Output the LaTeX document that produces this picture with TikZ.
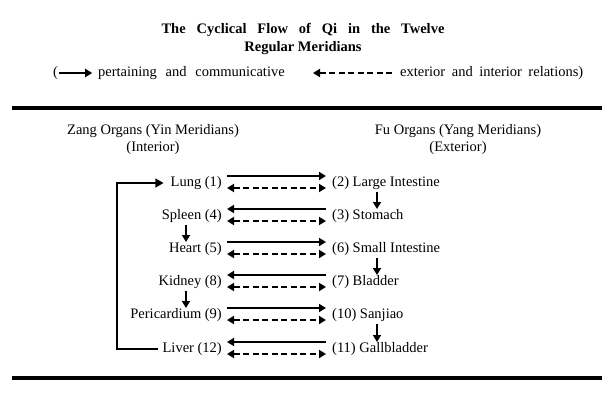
\documentclass[tikz,border=0pt]{standalone}
\usepackage{fontspec}
\setmainfont{Liberation Serif}
\usetikzlibrary{positioning,arrows.meta}

\begin{document}
\begin{tikzpicture}[x=1pt,y=-1pt,font={\fontsize{14.5}{17}\selectfont},
  organ/.style={inner sep=1pt},
  tip/.tip={Triangle[length=7pt,width=8pt]},
  flow/.style={line width=2.2pt,-tip},
  relation/.style={line width=2.2pt,dash pattern=on 6pt off 3.5pt,tip-tip},
  rule/.style={line width=3.2pt}]
\useasboundingbox (0,0) rectangle (615,415);

% title and key
\node[font={\fontsize{14.5}{18}\selectfont\bfseries},align=center] (title) at (303,39)
  {The\hspace{0.75em}Cyclical\hspace{0.75em}Flow\hspace{0.75em}of\hspace{0.75em}Qi\hspace{0.75em}in\hspace{0.75em}the\hspace{0.75em}Twelve\\Regular Meridians};
\node[anchor=west,inner sep=0] (kL) at (53,73) {(};
\node[anchor=west,inner sep=0] (k1) at (98,73) {pertaining\hspace{0.6em}and\hspace{0.6em}communicative};
\node[anchor=west,inner sep=0] (k2) at (400,73) {exterior\hspace{0.45em}and\hspace{0.45em}interior\hspace{0.45em}relations)};
\draw[flow] (kL.east) ++(1,0) -- ++(33,0) coordinate (kA);
\draw[line width=2.2pt,dash pattern=on 6pt off 3.5pt,tip-] (313,73) -- (392,73) coordinate (kB);

\draw[rule] (12,108) -- (602,108) coordinate (top);
\draw[rule] (12,378) -- (602,378) coordinate (bot);

\node[align=center] (zang) at (153,140) {Zang Organs (Yin Meridians)\\(Interior)};
\node[align=center] (fu) at (458,140) {Fu Organs (Yang Meridians)\\(Exterior)};

% zang organs
\node[organ,anchor=east] (L1) at (223,183) {Lung (1)};
\node[organ,anchor=east] (L4) at (223,216) {Spleen (4)};
\node[organ,anchor=east] (L5) at (223,249) {Heart (5)};
\node[organ,anchor=east] (L8) at (223,282) {Kidney (8)};
\node[organ,anchor=east] (L9) at (223,315) {Pericardium (9)};
\node[organ,anchor=east] (L12) at (223,349) {Liver (12)};

% fu organs
\node[organ,anchor=west] (R2) at (331,183) {(2) Large Intestine};
\node[organ,anchor=west] (R3) at (331,216) {(3) Stomach};
\node[organ,anchor=west] (R6) at (331,249) {(6) Small Intestine};
\node[organ,anchor=west] (R7) at (331,282) {(7) Bladder};
\node[organ,anchor=west] (R10) at (331,315) {(10) Sanjiao};
\node[organ,anchor=west] (R11) at (331,349) {(11) Gallbladder};

% pairs
\foreach \a/\b/\d in {L1/R2/1,L4/R3/0,L5/R6/1,L8/R7/0,L9/R10/1,L12/R11/0}{
  \ifnum\d=1
    \draw[flow] ([shift={(4,-7)}]\a.east) -- ([shift={(-5,-7)}]\b.west);
  \else
    \draw[flow] ([shift={(-5,-7)}]\b.west) -- ([shift={(4,-7)}]\a.east);
  \fi
  \draw[relation] ([shift={(4,5)}]\a.east) -- ([shift={(-5,5)}]\b.west);
}

% down the columns
\coordinate (colL) at (186,0);
\coordinate (colR) at (377,0);
\draw[flow] ([yshift=-9pt]R2.center -| colR) -- ([yshift=7pt]R3.center -| colR);
\draw[flow] ([yshift=-9pt]L4.center -| colL) -- ([yshift=7pt]L5.center -| colL);
\draw[flow] ([yshift=-9pt]R6.center -| colR) -- ([yshift=7pt]R7.center -| colR);
\draw[flow] ([yshift=-9pt]L8.center -| colL) -- ([yshift=7pt]L9.center -| colL);
\draw[flow] ([yshift=-9pt]R10.center -| colR) -- ([yshift=7pt]R11.center -| colR);

% back to the lung
\coordinate (loop) at (117,0);
\draw[line width=1.1pt,-{Triangle[length=8pt,width=9pt]}] ([xshift=-3pt]L12.west) -- (L12.west -| loop) -- (L1.west -| loop) -- ([xshift=-6pt]L1.west);
\end{tikzpicture}
\end{document}
